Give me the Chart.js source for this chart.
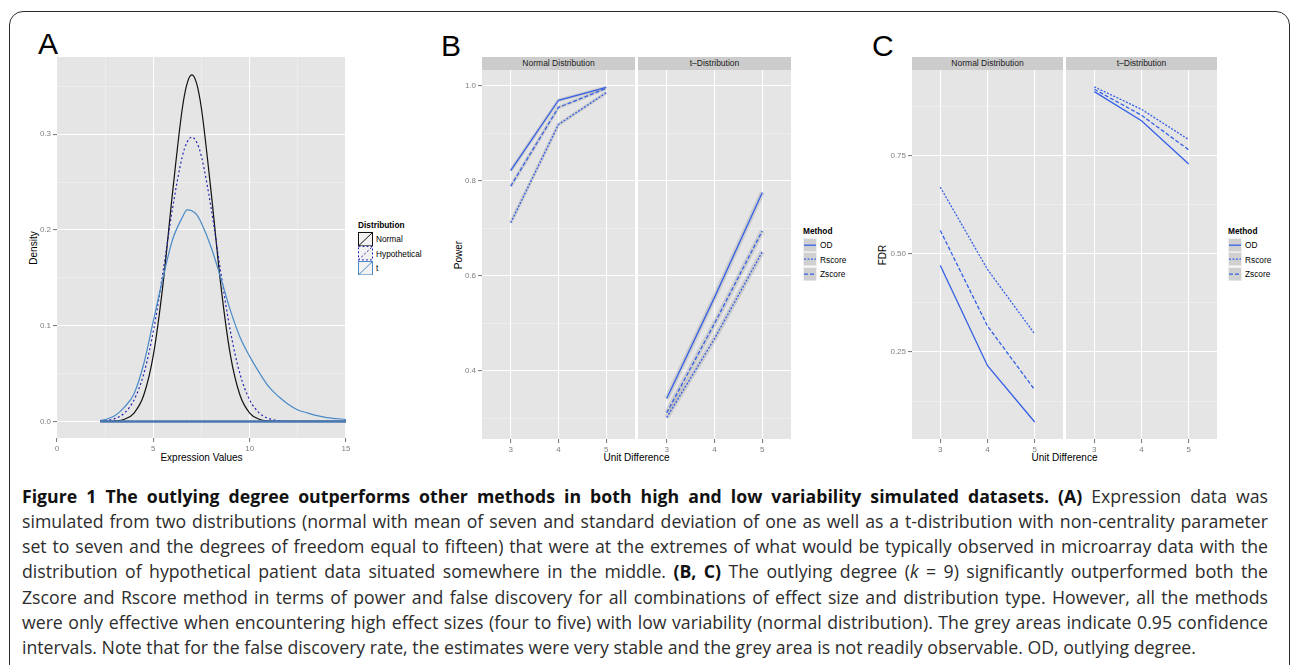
<!DOCTYPE html>
<html>
<head>
<meta charset="utf-8">
<script src="https://cdn.jsdelivr.net/npm/chart.js@4.4.1/dist/chart.umd.min.js"></script>
<style>
  html, body { margin: 0; padding: 0; background: #fff; }
  body { width: 1290px; height: 665px; position: relative; overflow: hidden; font-family: "Liberation Sans", Arial, sans-serif; }
  canvas { position: absolute; }
  .frame { position: absolute; left: 9px; top: 11px; width: 1281px; height: 720px; border: 1.6px solid #2b2b2b; border-radius: 14px; box-sizing: border-box; }
  .letter { position: absolute; font-size: 30px; line-height: 30px; color: #000; }
  .strip { position: absolute; top: 57px; height: 13px; background: #CCCCCC; color: #1A1A1A; font-size: 8.5px; line-height: 13px; text-align: center; white-space: nowrap; }
  .axt { position: absolute; font-size: 10px; line-height: 12px; color: #000; white-space: nowrap; transform: translateX(-50%); }
  .yt { position: absolute; font-size: 10px; line-height: 12px; color: #000; white-space: nowrap; transform: translate(-50%, -50%) rotate(-90deg); }
  .leg { position: absolute; font-size: 8.3px; color: #000; }
  .leg .ttl { font-weight: bold; height: 12px; line-height: 12px; margin-bottom: 1px; }
  .leg .row { display: flex; align-items: center; height: 14.4px; }
  .leg .row span { margin-left: 3px; }
  .leg svg { display: block; }
  .cap { position: absolute; left: 22px; width: 1246px; font-family: "Open Sans", sans-serif; font-size: 17.7px; line-height: 25.3px; color: #2d2d2d; white-space: nowrap; text-align: justify; text-align-last: justify; }
  .cap.last { text-align: left; text-align-last: left; }
  .cap b { color: #111; font-weight: 700; }
</style>
</head>
<body>
<div class="frame"></div>

<div class="letter" style="left:38px; top:29px;">A</div>
<div class="letter" style="left:441px; top:31px;">B</div>
<div class="letter" style="left:872px; top:31px;">C</div>

<div class="strip" style="left:482px; width:153px;">Normal Distribution</div>
<div class="strip" style="left:638px; width:153px;">t–Distribution</div>
<div class="strip" style="left:912px; width:151px;">Normal Distribution</div>
<div class="strip" style="left:1066px; width:151px;">t–Distribution</div>

<div class="axt" style="left:201.5px; top:452px;">Expression Values</div>
<div class="axt" style="left:636.5px; top:452px;">Unit Difference</div>
<div class="axt" style="left:1064.5px; top:452px;">Unit Difference</div>
<div class="yt" style="left:33.5px; top:248px;">Density</div>
<div class="yt" style="left:458.5px; top:254.5px;">Power</div>
<div class="yt" style="left:883px; top:254.5px;">FDR</div>

<div class="leg" style="left:358px; top:219px;">
  <div class="ttl">Distribution</div>
  <div class="row"><svg width="15" height="14.4"><rect x="0.5" y="0.5" width="14" height="13.4" fill="#F2F2F2" stroke="#111"/><line x1="0.5" y1="13.9" x2="14.5" y2="0.5" stroke="#111"/></svg><span>Normal</span></div>
  <div class="row"><svg width="15" height="14.4"><rect x="0.5" y="0.5" width="14" height="13.4" fill="#F2F2F2" stroke="#2323B0" stroke-dasharray="2,2"/><line x1="0.5" y1="13.9" x2="14.5" y2="0.5" stroke="#2323B0" stroke-dasharray="2,2"/></svg><span>Hypothetical</span></div>
  <div class="row"><svg width="15" height="14.4"><rect x="0.5" y="0.5" width="14" height="13.4" fill="#F2F2F2" stroke="#4A8AC6"/><line x1="0.5" y1="13.9" x2="14.5" y2="0.5" stroke="#4A8AC6"/></svg><span>t</span></div>
</div>

<div class="leg" style="left:803px; top:225px;">
  <div class="ttl">Method</div>
  <div class="row"><svg width="14" height="14.4"><rect x="0.5" y="0.5" width="13" height="13.4" fill="#D0D0D0" stroke="#EEEEEE"/><line x1="1" y1="7.2" x2="13" y2="7.2" stroke="#3560E6" stroke-width="1.3"/></svg><span>OD</span></div>
  <div class="row"><svg width="14" height="14.4"><rect x="0.5" y="0.5" width="13" height="13.4" fill="#D0D0D0" stroke="#EEEEEE"/><line x1="1" y1="7.2" x2="13" y2="7.2" stroke="#3560E6" stroke-width="1.3" stroke-dasharray="2,1.5"/></svg><span>Rscore</span></div>
  <div class="row"><svg width="14" height="14.4"><rect x="0.5" y="0.5" width="13" height="13.4" fill="#D0D0D0" stroke="#EEEEEE"/><line x1="1" y1="7.2" x2="13" y2="7.2" stroke="#3560E6" stroke-width="1.3" stroke-dasharray="4,2"/></svg><span>Zscore</span></div>
</div>

<div class="leg" style="left:1228px; top:225px;">
  <div class="ttl">Method</div>
  <div class="row"><svg width="14" height="14.4"><rect x="0.5" y="0.5" width="13" height="13.4" fill="#D0D0D0" stroke="#EEEEEE"/><line x1="1" y1="7.2" x2="13" y2="7.2" stroke="#3560E6" stroke-width="1.3"/></svg><span>OD</span></div>
  <div class="row"><svg width="14" height="14.4"><rect x="0.5" y="0.5" width="13" height="13.4" fill="#D0D0D0" stroke="#EEEEEE"/><line x1="1" y1="7.2" x2="13" y2="7.2" stroke="#3560E6" stroke-width="1.3" stroke-dasharray="2,1.5"/></svg><span>Rscore</span></div>
  <div class="row"><svg width="14" height="14.4"><rect x="0.5" y="0.5" width="13" height="13.4" fill="#D0D0D0" stroke="#EEEEEE"/><line x1="1" y1="7.2" x2="13" y2="7.2" stroke="#3560E6" stroke-width="1.3" stroke-dasharray="4,2"/></svg><span>Zscore</span></div>
</div>

<div class="cap" style="top:483.5px;"><b>Figure 1 The outlying degree outperforms other methods in both high and low variability simulated datasets. (A)</b> Expression data was</div>
<div class="cap" style="top:508.8px;">simulated from two distributions (normal with mean of seven and standard deviation of one as well as a t-distribution with non-centrality parameter</div>
<div class="cap" style="top:534.1px;">set to seven and the degrees of freedom equal to fifteen) that were at the extremes of what would be typically observed in microarray data with the</div>
<div class="cap" style="top:559.4px;">distribution of hypothetical patient data situated somewhere in the middle. <b>(B, C)</b> The outlying degree (<i>k</i> = 9) significantly outperformed both the</div>
<div class="cap" style="top:584.7px;">Zscore and Rscore method in terms of power and false discovery for all combinations of effect size and distribution type. However, all the methods</div>
<div class="cap" style="top:610px;">were only effective when encountering high effect sizes (four to five) with low variability (normal distribution). The grey areas indicate 0.95 confidence</div>
<div class="cap last" style="top:635.3px;">intervals. Note that for the false discovery rate, the estimates were very stable and the grey area is not readily observable. OD, outlying degree.</div>

<script>
// Panel A: density curves
const exprValues = [2.25, 2.5, 3, 3.5, 4, 4.5, 5, 5.5, 6, 6.5, 6.75, 7, 7.25, 7.5, 8, 8.5, 9, 9.5, 10, 10.5, 11, 11.5, 12, 12.5, 13, 13.5, 14, 14.5, 15];
const densNormal = [0, 0.0001, 0.0005, 0.0023, 0.0088, 0.0273, 0.0693, 0.1429, 0.2395, 0.3264, 0.3528, 0.362, 0.3528, 0.3264, 0.2395, 0.1429, 0.0693, 0.0273, 0.0088, 0.0023, 0.0005, 0.0001, 0, 0, 0, 0, 0, 0, 0];
const densHypothetical = [0.0005, 0.0009, 0.003, 0.0088, 0.0225, 0.0494, 0.0942, 0.1558, 0.2229, 0.2765, 0.2917, 0.297, 0.2917, 0.2765, 0.2229, 0.1558, 0.0942, 0.0494, 0.0225, 0.0088, 0.003, 0.0009, 0.0002, 0, 0, 0, 0, 0, 0];
const densT = [0.001, 0.002, 0.006, 0.015, 0.029, 0.060, 0.105, 0.150, 0.190, 0.213, 0.221, 0.220, 0.216, 0.207, 0.182, 0.150, 0.116, 0.088, 0.068, 0.051, 0.036, 0.026, 0.018, 0.012, 0.009, 0.006, 0.004, 0.003, 0.002];
const densXTicks = [0, 5, 10, 15];
const densXMinor = [2.5, 7.5, 12.5];
const densYTicks = [0, 0.1, 0.2, 0.3];
const densYMinor = [0.05, 0.15, 0.25, 0.35];

// Panels B and C
const unitDiff = [3, 4, 5];
const powerNormalOD = [0.822, 0.970, 0.997];
const powerNormalRscore = [0.712, 0.919, 0.986];
const powerNormalZscore = [0.789, 0.955, 0.995];
const powerTOD = [0.342, 0.555, 0.776];
const powerTRscore = [0.302, 0.468, 0.651];
const powerTZscore = [0.312, 0.500, 0.695];
const fdrNormalOD = [0.470, 0.215, 0.072];
const fdrNormalRscore = [0.669, 0.460, 0.296];
const fdrNormalZscore = [0.559, 0.316, 0.154];
const fdrTOD = [0.912, 0.838, 0.728];
const fdrTRscore = [0.924, 0.867, 0.790];
const fdrTZscore = [0.918, 0.852, 0.764];
const powerYTicks = [0.4, 0.6, 0.8, 1.0];
const powerYMinor = [0.3, 0.5, 0.7, 0.9];
const fdrYTicks = [0.25, 0.5, 0.75];
const fdrYMinor = [0.125, 0.375, 0.625, 0.875];

const FONT = '"Liberation Sans", Arial, sans-serif';
const BLUE = '#3560E6';
const RIBBON = 'rgba(150,150,150,0.3)';

const panelBg = {
  id: 'panelBg',
  beforeDraw(chart) {
    const { ctx, chartArea: a } = chart;
    ctx.save();
    ctx.fillStyle = '#E5E5E5';
    ctx.fillRect(a.left, a.top, a.right - a.left, a.bottom - a.top);
    ctx.restore();
  }
};

function pts(xs, ys) {
  return xs.map((x, i) => ({ x: x, y: ys[i] }));
}

function tickList(major, minor) {
  return major.map(v => ({ value: v, minor: false }))
    .concat(minor.map(v => ({ value: v, minor: true })))
    .sort((a, b) => a.value - b.value);
}

function scale(horizontal, min, max, major, minor, fmt, showLabels, size) {
  return {
    type: 'linear',
    min: min,
    max: max,
    afterBuildTicks: s => { s.ticks = tickList(major, minor); },
    afterFit: s => {
      if (horizontal) s.height = size; else s.width = size;
      s.paddingLeft = 0; s.paddingRight = 0; s.paddingTop = 0; s.paddingBottom = 0;
    },
    ticks: {
      display: showLabels,
      autoSkip: false,
      maxRotation: 0,
      padding: 2,
      color: '#7F7F7F',
      font: { family: FONT, size: 8 },
      callback: (v, i, ticks) => ticks[i].minor ? '' : fmt(v)
    },
    grid: {
      color: c => (c.tick && c.tick.minor) ? '#F2F2F2' : '#FFFFFF',
      lineWidth: c => (c.tick && c.tick.minor) ? 0.6 : 1.1,
      drawTicks: showLabels,
      tickLength: 4,
      tickColor: c => (c.tick && c.tick.minor) ? 'rgba(0,0,0,0)' : '#7F7F7F'
    },
    border: { display: false }
  };
}

function panel(p) {
  const cv = document.createElement('canvas');
  const cw = p.yAxisW + p.width + p.padRight;
  const ch = p.height + p.xAxisH;
  cv.width = cw;
  cv.height = ch;
  cv.style.left = (p.left - p.yAxisW) + 'px';
  cv.style.top = p.top + 'px';
  cv.style.width = cw + 'px';
  cv.style.height = ch + 'px';
  document.body.appendChild(cv);
  return new Chart(cv, {
    type: 'line',
    data: { datasets: p.datasets },
    options: {
      responsive: false,
      animation: false,
      layout: { padding: { left: 0, right: p.padRight, top: 0, bottom: 0 } },
      plugins: { legend: { display: false }, tooltip: { enabled: false } },
      elements: { point: { radius: 0 } },
      scales: {
        x: scale(true, p.xMin, p.xMax, p.xMajor, p.xMinor, p.xFmt, true, p.xAxisH),
        y: scale(false, p.yMin, p.yMax, p.yMajor, p.yMinor, p.yFmt, p.showY, p.yAxisW)
      }
    },
    plugins: [panelBg]
  });
}

function densLine(ys, color, dash, order) {
  return { data: pts(exprValues, ys), borderColor: color, borderWidth: 1.2, borderDash: dash,
           cubicInterpolationMode: 'monotone', order: order };
}
function baseLine(color, width, dash, order) {
  const ends = [exprValues[0], exprValues[exprValues.length - 1]];
  return { data: pts(ends, [0, 0]), borderColor: color, borderWidth: width, borderDash: dash, order: order };
}

panel({
  left: 57, top: 57, width: 289, height: 381, yAxisW: 40, xAxisH: 20, padRight: 8,
  xMin: 0, xMax: 15, xMajor: densXTicks, xMinor: densXMinor, xFmt: v => String(v),
  yMin: -0.0173, yMax: 0.3807, yMajor: densYTicks, yMinor: densYMinor, yFmt: v => v.toFixed(1), showY: true,
  datasets: [
    densLine(densNormal, '#111111', [], 3),
    densLine(densHypothetical, '#2323B0', [2, 2.5], 2),
    densLine(densT, '#4A8AC6', [], 1),
    baseLine('#4A78B0', 2.6, [], 0),
    baseLine('#2323B0', 1.2, [2, 2.5], 0)
  ]
});

function methodLines(ods, rs, zs, ribbonW) {
  const out = [];
  const series = [[ods, []], [rs, [2, 1.5]], [zs, [4, 2]]];
  series.forEach(([ys, dash]) => {
    if (ribbonW > 0) {
      out.push({ data: pts(unitDiff, ys), borderColor: RIBBON, borderWidth: ribbonW, order: 10 });
    }
    out.push({ data: pts(unitDiff, ys), borderColor: BLUE, borderWidth: 1.3, borderDash: dash, order: 1 });
  });
  return out;
}

const facet = { top: 70, height: 369, xAxisH: 20, padRight: 0, xMin: 2.4, xMax: 5.6,
                xMajor: unitDiff, xMinor: [], xFmt: v => String(v) };

panel(Object.assign({}, facet, {
  left: 482, width: 153, yAxisW: 40, showY: true,
  yMin: 0.2568, yMax: 1.0337, yMajor: powerYTicks, yMinor: powerYMinor, yFmt: v => v.toFixed(1),
  datasets: methodLines(powerNormalOD, powerNormalRscore, powerNormalZscore, 3.5)
}));
panel(Object.assign({}, facet, {
  left: 638, width: 153, yAxisW: 0, showY: false,
  yMin: 0.2568, yMax: 1.0337, yMajor: powerYTicks, yMinor: powerYMinor, yFmt: v => v.toFixed(1),
  datasets: methodLines(powerTOD, powerTRscore, powerTZscore, 5)
}));
panel(Object.assign({}, facet, {
  left: 912, width: 151, yAxisW: 40, showY: true,
  yMin: 0.0288, yMax: 0.967, yMajor: fdrYTicks, yMinor: fdrYMinor, yFmt: v => v.toFixed(2),
  datasets: methodLines(fdrNormalOD, fdrNormalRscore, fdrNormalZscore, 0)
}));
panel(Object.assign({}, facet, {
  left: 1066, width: 151, yAxisW: 0, showY: false,
  yMin: 0.0288, yMax: 0.967, yMajor: fdrYTicks, yMinor: fdrYMinor, yFmt: v => v.toFixed(2),
  datasets: methodLines(fdrTOD, fdrTRscore, fdrTZscore, 0)
}));
</script>
</body>
</html>
